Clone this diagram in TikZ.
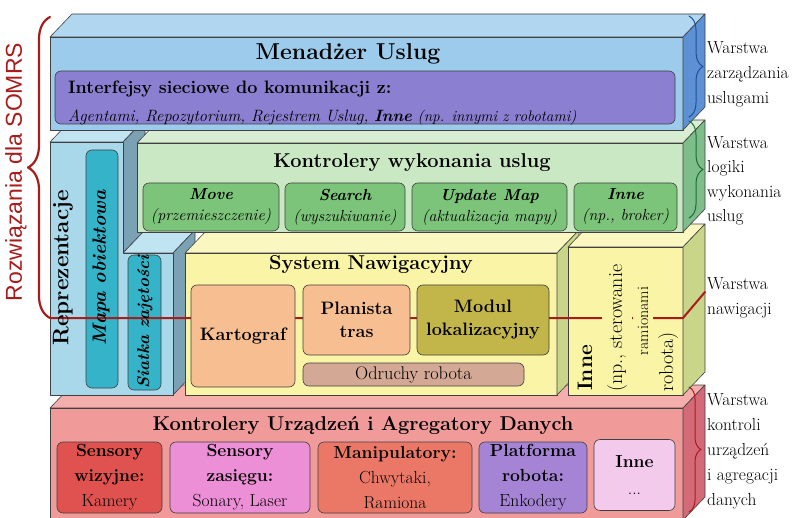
\documentclass[tikz, border = 0pt]{standalone}
\usepackage{fontspec}
\newfontfamily\somrsfont{Liberation Sans}
\usetikzlibrary{decorations.pathreplacing}

\definecolor{bluefront}{RGB}{157, 203, 235}
\definecolor{bluetop}{RGB}{176, 214, 240}
\definecolor{blueside}{RGB}{92, 145, 212}
\definecolor{ifacebox}{RGB}{138, 127, 208}
\definecolor{greenfront}{RGB}{203, 232, 196}
\definecolor{greentop}{RGB}{216, 238, 210}
\definecolor{greenside}{RGB}{125, 190, 138}
\definecolor{greenbox}{RGB}{124, 196, 122}
\definecolor{reprfront}{RGB}{168, 216, 234}
\definecolor{reprtop}{RGB}{192, 228, 242}
\definecolor{reprside}{RGB}{122, 162, 180}
\definecolor{columnbox}{RGB}{53, 179, 200}
\definecolor{navfront}{RGB}{249, 244, 166}
\definecolor{navtop}{RGB}{250, 247, 192}
\definecolor{navside}{RGB}{201, 214, 138}
\definecolor{peachbox}{RGB}{247, 190, 146}
\definecolor{locbox}{RGB}{194, 182, 74}
\definecolor{reflexbox}{RGB}{211, 168, 148}
\definecolor{devfront}{RGB}{241, 154, 154}
\definecolor{devtop}{RGB}{244, 174, 172}
\definecolor{devside}{RGB}{212, 106, 120}
\definecolor{visionbox}{RGB}{224, 82, 79}
\definecolor{rangebox}{RGB}{236, 143, 214}
\definecolor{manipbox}{RGB}{235, 120, 102}
\definecolor{platbox}{RGB}{165, 132, 214}
\definecolor{otherbox}{RGB}{243, 201, 236}
\definecolor{somrsred}{RGB}{168, 28, 28}
\definecolor{bracebl}{RGB}{31, 78, 154}
\definecolor{bracegr}{RGB}{30, 107, 58}

\newcommand{\slab}[7]{
  \filldraw[face, fill = #5] (#1, #2) -- ++(22, -23) -- ({#3 + 22}, {#2 - 23}) -- (#3, #2) -- cycle;
  \filldraw[face, fill = #6] (#1, #2) rectangle (#3, #4);
  \filldraw[face, fill = #7] (#3, #2) -- ++(22, -23) -- ({#3 + 22}, {#4 - 23}) -- (#3, #4) -- cycle;}

\begin{document}
\begin{tikzpicture}[line cap = round, line join = round, x = 1pt, y = -1pt,
  face/.style = {draw = black!75, line width = 0.6pt},
  box/.style = {draw = black!75, line width = 0.6pt, rounded corners = 6pt,
    inner sep = 0pt, align = center},
  heading/.style = {anchor = base, inner sep = 0pt,
    font = \fontsize{20}{24}\selectfont\bfseries},
  layername/.style = {anchor = north west, inner sep = 0pt, align = left,
    font = \fontsize{17.4}{25}\selectfont},
  sidebrace/.style = {decorate, decoration = {brace, amplitude = 14pt},
    line width = 1pt}]
  \useasboundingbox (0, 0) rectangle (802, 518);
  \clip (0, 0) rectangle (802, 518);

  \slab{50}{408}{683}{520}{devtop}{devfront}{devside}

  \filldraw[face, fill = reprtop] (50, 142) -- ++(22, -23) -- (145, 119) -- (123, 142) -- cycle;
  \filldraw[face, fill = reprside] (123, 142) -- ++(22, -23) -- (145, 230) -- (123, 253) -- cycle;
  \filldraw[face, fill = reprtop] (123, 253) -- ++(22, -23) -- (195, 230) -- (173, 253) -- cycle;
  \filldraw[face, fill = reprside] (173, 253) -- ++(22, -23) -- (195, 372) -- (173, 395) -- cycle;
  \filldraw[face, fill = reprfront] (50, 142) -- (123, 142) -- (123, 253) -- (173, 253)
    -- (173, 395) -- (50, 395) -- cycle;

  \slab{185}{253}{557}{395}{navtop}{navfront}{navside}
  \slab{568}{247}{683}{395}{navtop}{navfront}{navside}
  \slab{137}{143}{683}{232}{greentop}{greenfront}{greenside}
  \slab{50}{37}{683}{130}{bluetop}{bluefront}{blueside}

  \node[box, fill = columnbox, minimum width = 32pt, minimum height = 238pt] (objmap) at (102, 269) {};
  \node[box, fill = columnbox, minimum width = 33pt, minimum height = 135pt] (grid) at (144.5, 322.5) {};

  \coordinate (navtip) at (50, 318);
  \coordinate (navbend) at (683, 318);
  \coordinate (navend) at (705, 292);
  \coordinate (bracetop) at (50, 17);
  \draw[somrsred, line width = 2pt] (navtip) -- (navbend) -- (navend);
  \draw[somrsred, line width = 2.2pt, decorate, decoration = {brace, amplitude = 22pt}]
    (navtip) -- (bracetop);

  \node[rotate = 90, font = \fontsize{22.5}{26}\selectfont\bfseries] (reprtitle) at (63, 268) {Reprezentacje};
  \node[rotate = 90, font = \fontsize{19.2}{23}\selectfont\bfseries\itshape] (objmaptext) at (101, 268) {Mapa obiektowa};
  \node[rotate = 90, font = \fontsize{17}{21}\selectfont\bfseries\itshape] (gridtext) at (145, 322) {Siatka zajętości};

  \node[rotate = 90, anchor = west, inner sep = 0pt, font = \fontsize{21}{25}\selectfont\bfseries]
    (armstitle) at (585, 391) {Inne};
  \node[rotate = 90, anchor = west, inner xsep = 0pt, inner ysep = 5pt, fill = navfront,
    font = \fontsize{20}{24}\selectfont] (armsnote) at (617, 392) {(np., sterowanie};
  \node[rotate = 90, inner xsep = 0pt, inner ysep = 5pt, fill = navfront,
    font = \fontsize{16}{20}\selectfont] (armsnoteb) at (643, 321) {ramionami};
  \node[rotate = 90, anchor = west, inner sep = 0pt, font = \fontsize{20}{24}\selectfont]
    (armsnotec) at (668, 392) {robota)};

  \node[box, fill = peachbox, minimum width = 104pt, minimum height = 102pt,
    font = \fontsize{18}{23}\selectfont\bfseries] (carto) at (243, 336) {Kartograf};
  \node[box, fill = peachbox, minimum width = 107pt, minimum height = 70pt,
    font = \fontsize{18}{23}\selectfont\bfseries] (planner) at (356.5, 320) {Planista\\tras};
  \node[box, fill = locbox, minimum width = 132pt, minimum height = 70pt,
    font = \fontsize{18}{23}\selectfont\bfseries] (localizer) at (483, 320) {Modul\\lokalizacyjny};
  \node[box, fill = reflexbox, minimum width = 221pt, minimum height = 23pt,
    font = \fontsize{18.3}{21}\selectfont] (reflexes) at (413.5, 374.5) {Odruchy robota};

  \node[heading, font = \fontsize{23}{27}\selectfont\bfseries] (mgrtitle) at (348, 60) {Menadżer Uslug};
  \node[heading] (exectitle) at (412, 168) {Kontrolery wykonania uslug};
  \node[heading] (navtitle) at (371, 270) {System Nawigacyjny};
  \node[heading] (devtitle) at (363, 430) {Kontrolery Urządzeń i Agregatory Danych};

  \node[box, fill = ifacebox, minimum width = 620pt, minimum height = 53pt] (iface) at (365, 97.5) {};
  \node[anchor = base west, inner sep = 0pt, font = \fontsize{18}{22}\selectfont\bfseries]
    (ifacehead) at (68, 94) {Interfejsy sieciowe do komunikacji z:};
  \node[anchor = base west, inner sep = 0pt, font = \fontsize{16.4}{20}\selectfont\itshape]
    (ifacelist) at (68, 122) {Agentami, Repozytorium, Rejestrem Uslug, \textbf{Inne}
    {\fontsize{15.3}{18}\selectfont (np. innymi z robotami)}};

  \node[box, fill = greenbox, minimum width = 136pt, minimum height = 48pt,
    font = \fontsize{16}{21}\selectfont\itshape] (move) at (211, 207) {\textbf{Move}\\(przemieszczenie)};
  \node[box, fill = greenbox, minimum width = 120pt, minimum height = 48pt,
    font = \fontsize{16}{21}\selectfont\itshape] (search) at (345, 207) {\textbf{Search}\\(wyszukiwanie)};
  \node[box, fill = greenbox, minimum width = 155pt, minimum height = 48pt,
    font = \fontsize{16}{21}\selectfont\itshape] (update) at (489.5, 207) {\textbf{Update Map}\\(aktualizacja mapy)};
  \node[box, fill = greenbox, minimum width = 103pt, minimum height = 48pt,
    font = \fontsize{16}{21}\selectfont\itshape] (othersvc) at (625.5, 207) {\textbf{Inne}\\(np., broker)};

  \node[box, fill = visionbox, minimum width = 105pt, minimum height = 71pt,
    font = \fontsize{17.5}{25}\selectfont] (vision) at (109.5, 477.5) {\textbf{Sensory}\\\textbf{wizyjne:}\\Kamery};
  \node[box, fill = rangebox, minimum width = 140pt, minimum height = 71pt,
    font = \fontsize{17.5}{25}\selectfont] (range) at (240, 477.5) {\textbf{Sensory}\\\textbf{zasięgu:}\\Sonary, Laser};
  \node[box, fill = manipbox, minimum width = 154pt, minimum height = 71pt,
    font = \fontsize{17.5}{25}\selectfont] (manip) at (395, 477.5) {\textbf{Manipulatory:}\\Chwytaki,\\Ramiona};
  \node[box, fill = platbox, minimum width = 108pt, minimum height = 71pt,
    font = \fontsize{17.5}{25}\selectfont] (platform) at (533, 477.5) {\textbf{Platforma}\\\textbf{robota:}\\Enkodery};
  \node[box, fill = otherbox, minimum width = 81pt, minimum height = 71pt,
    font = \fontsize{17.5}{27}\selectfont] (otherdev) at (634.5, 475) {\textbf{Inne}\\...};

  \draw[sidebrace, draw = bracebl] (689, 16) -- (689, 117);
  \draw[sidebrace, draw = bracegr] (689, 121) -- (689, 218);
  \draw[sidebrace, draw = somrsred, decoration = {brace, amplitude = 12pt}] (689, 387) -- (689, 512);

  \node[layername] (mgmtname) at (707, 41) {Warstwa\\zarządzania\\uslugami};
  \node[layername, font = \fontsize{17.4}{24.5}\selectfont] (execname) at (707, 136) {Warstwa\\logiki\\wykonania\\uslug};
  \node[layername] (navname) at (707, 277) {Warstwa\\nawigacji};
  \node[layername] (devname) at (707, 393) {Warstwa\\kontroli\\urządzeń\\i agregacji\\danych};

  \node[rotate = 90, text = somrsred, font = \somrsfont\fontsize{23}{27}\selectfont]
    (somrs) at (16, 172) {Rozwiązania dla SOMRS};
\end{tikzpicture}
\end{document}
